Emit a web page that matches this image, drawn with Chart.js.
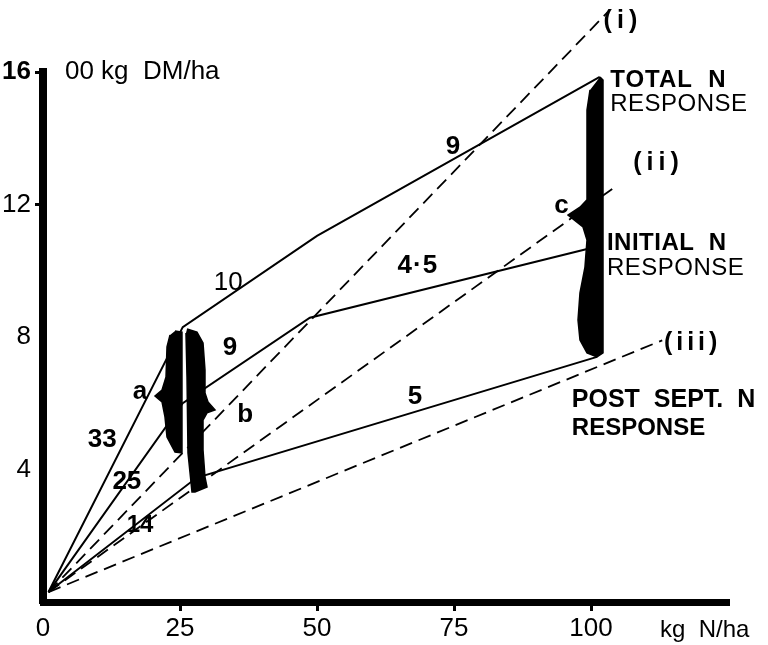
<!DOCTYPE html>
<html>
<head>
<meta charset="utf-8">
<script src="https://cdn.jsdelivr.net/npm/chart.js@4/dist/chart.umd.min.js"></script>
<style>
  body { margin: 0; background: #fff; }
  #wrap { width: 768px; height: 645px; }
</style>
</head>
<body>
<div id="wrap"><canvas id="nChart"></canvas></div>
<script>
// axis ticks (x in kg N/ha, y in 100 kg DM/ha)
const xTicks = [0, 25, 50, 75, 100];
const yTicks = [4, 8, 12, 16];

// solid response lines: 33 -> 10 -> 9, 25 -> 9 -> 4.5, 14 -> 5
const totalResponse = [{x: 1, y: 0.3}, {x: 25.5, y: 8.3}, {x: 50, y: 11.05}, {x: 101.6, y: 15.85}];
const initialResponse = [{x: 1, y: 0.3}, {x: 25.5, y: 6.0}, {x: 48.7, y: 8.58}, {x: 101.5, y: 10.75}];
const postSeptResponse = [{x: 1, y: 0.3}, {x: 28, y: 3.75}, {x: 101.1, y: 7.4}];

// dashed reference lines (i), (ii), (iii)
const lineI = [{x: 1, y: 0.3}, {x: 103, y: 17.8}];
const lineII = [{x: 1, y: 0.3}, {x: 104.4, y: 12.53}];
const lineIII = [{x: 1, y: 0.3}, {x: 113, y: 7.9}];

// brace outlines at 25 kg N and the bar at 100 kg N
const braceA = [
  {x: 24.09, y: 8.18}, {x: 25.36, y: 8.15}, {x: 25.36, y: 4.5}, {x: 24.09, y: 4.53},
  {x: 22.63, y: 4.98}, {x: 22.26, y: 5.59}, {x: 21.72, y: 6.04}, {x: 20.44, y: 6.22},
  {x: 21.72, y: 6.4}, {x: 22.45, y: 6.79}, {x: 22.63, y: 7.7}, {x: 23.18, y: 8.06}
];
const braceB = [
  {x: 26.28, y: 8.24}, {x: 28.1, y: 8.15}, {x: 29.2, y: 7.82}, {x: 29.56, y: 7.0},
  {x: 29.56, y: 6.31}, {x: 30.11, y: 6.04}, {x: 31.39, y: 5.8}, {x: 29.93, y: 5.71},
  {x: 29.2, y: 5.49}, {x: 29.2, y: 4.59}, {x: 29.56, y: 3.77}, {x: 29.93, y: 3.47},
  {x: 27.74, y: 3.32}, {x: 27.19, y: 3.32}, {x: 26.46, y: 4.5}, {x: 26.28, y: 6.79},
  {x: 26.09, y: 8.12}
];
const braceC = [
  {x: 101.64, y: 15.85}, {x: 102.19, y: 15.76}, {x: 102.19, y: 7.52}, {x: 101.09, y: 7.4},
  {x: 99.27, y: 7.52}, {x: 97.99, y: 7.91}, {x: 97.63, y: 8.51}, {x: 97.99, y: 9.33},
  {x: 98.9, y: 10.11}, {x: 99.27, y: 10.93}, {x: 98.54, y: 11.32}, {x: 95.8, y: 11.68},
  {x: 97.99, y: 11.92}, {x: 99.27, y: 12.14}, {x: 99.27, y: 13.86}, {x: 99.27, y: 14.85},
  {x: 99.82, y: 15.46}
];

// text notes placed in data units: text, x, y, align, font, letter spacing
const notes = [
  ["00 kg  DM/ha", 4.0, 16.0, "left", "26px", 0],
  ["(i)", 102.3, 17.55, "left", "bold 25px", 5],
  ["TOTAL  N", 103.5, 15.76, "left", "bold 24px", 1],
  ["RESPONSE", 103.5, 15.02, "left", "24px", 0.5],
  ["(ii)", 107.7, 13.25, "left", "bold 25px", 5],
  ["c", 94.6, 11.95, "center", "bold 26px", 0],
  ["INITIAL  N", 102.9, 10.84, "left", "bold 24px", 0.5],
  ["RESPONSE", 102.9, 10.08, "left", "24px", 0.5],
  ["(iii)", 113.3, 7.82, "left", "bold 25px", 4],
  ["POST  SEPT.  N", 96.5, 6.1, "left", "bold 25px", 0],
  ["RESPONSE", 96.5, 5.25, "left", "bold 24px", 0],
  ["9", 74.8, 13.74, "center", "bold 26px", 0],
  ["10", 33.8, 9.63, "center", "26px", 0],
  ["4\u00b75", 68.4, 10.14, "center", "bold 26px", 1],
  ["5", 67.9, 6.19, "center", "bold 26px", 0],
  ["9", 34.1, 7.67, "center", "bold 26px", 0],
  ["a", 17.7, 6.34, "center", "bold 26px", 0],
  ["b", 36.9, 5.65, "center", "bold 26px", 0],
  ["33", 10.8, 4.89, "center", "bold 26px", 0],
  ["25", 15.3, 3.62, "center", "bold 26px", 0],
  ["14", 17.7, 2.32, "center", "bold 24px", 0],
  ["kg  N/ha", 112.6, -0.85, "left", "24px", 0]
];

const notesPlugin = {
  id: "notes",
  afterDraw(chart) {
    const {ctx, scales} = chart;
    ctx.save();
    ctx.fillStyle = "#000";
    ctx.textBaseline = "middle";
    notes.forEach(([text, x, y, align, font, spacing]) => {
      ctx.font = font + " 'Liberation Sans', Arial, sans-serif";
      ctx.letterSpacing = spacing + "px";
      ctx.textAlign = align;
      ctx.fillText(text, scales.x.getPixelForValue(x), scales.y.getPixelForValue(y));
    });
    ctx.restore();
  }
};

function solid(data) {
  return {data, borderColor: "#000", borderWidth: 2, pointRadius: 0, showLine: true, fill: false};
}
function dashed(data) {
  return {data, borderColor: "#000", borderWidth: 1.8, borderDash: [13, 7], pointRadius: 0, showLine: true, fill: false, clip: false};
}
function shape(data) {
  return {data, borderColor: "#000", backgroundColor: "#000", borderWidth: 1.5, pointRadius: 0, showLine: true, fill: "shape"};
}

new Chart(document.getElementById("nChart"), {
  type: "scatter",
  data: {
    datasets: [
      shape(braceA), shape(braceB), shape(braceC),
      solid(totalResponse), solid(initialResponse), solid(postSeptResponse),
      dashed(lineI), dashed(lineII), dashed(lineIII)
    ]
  },
  options: {
    responsive: true,
    maintainAspectRatio: false,
    animation: false,
    layout: {padding: {left: 0, top: 72, right: 40, bottom: 0}},
    plugins: {legend: {display: false}, tooltip: {enabled: false}},
    scales: {
      x: {
        type: "linear",
        min: 0,
        max: 125,
        afterBuildTicks: (scale) => { scale.ticks = xTicks.map(v => ({value: v})); },
        afterFit: (scale) => { scale.height = 43; },
        border: {display: true, color: "#000", width: 7},
        grid: {
          drawOnChartArea: false,
          drawTicks: true,
          tickLength: 9,
          lineWidth: 3,
          color: (c) => (c.tick && c.tick.value > 0 ? "#000" : "rgba(0,0,0,0)")
        },
        ticks: {
          color: "#000",
          padding: 2,
          maxRotation: 0,
          font: {family: "'Liberation Sans', Arial, sans-serif", size: 26},
          callback: (v) => String(v)
        }
      },
      y: {
        type: "linear",
        min: 0,
        max: 16,
        afterBuildTicks: (scale) => { scale.ticks = yTicks.map(v => ({value: v})); },
        afterFit: (scale) => { scale.width = 43; },
        border: {display: true, color: "#000", width: 8},
        grid: {
          drawOnChartArea: false,
          drawTicks: true,
          tickLength: 8,
          lineWidth: 3,
          color: (c) => (c.tick && c.tick.value >= 12 ? "#000" : "rgba(0,0,0,0)")
        },
        ticks: {
          color: "#000",
          padding: 4,
          font: (c) => ({
            family: "'Liberation Sans', Arial, sans-serif",
            size: 26,
            weight: c.tick && c.tick.value === 16 ? "bold" : "normal"
          }),
          callback: (v) => String(v)
        }
      }
    }
  },
  plugins: [notesPlugin]
});
</script>
</body>
</html>
